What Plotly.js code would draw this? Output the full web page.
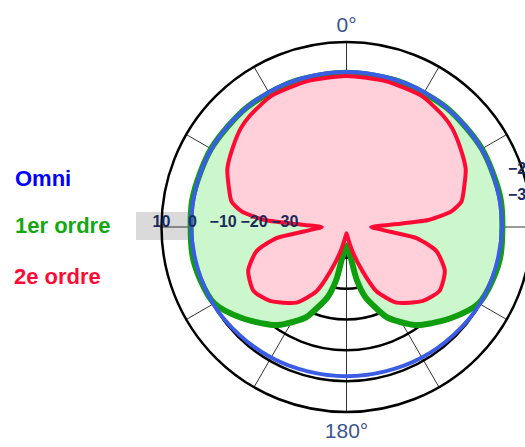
<!DOCTYPE html>
<html>
<head>
<meta charset="utf-8">
<script src="https://cdn.plot.ly/plotly-3.0.1.min.js"></script>
<style>
html,body{margin:0;padding:0;overflow:hidden;background:#fff;}
#chart{width:560px;height:447px;}
</style>
</head>
<body>
<div id="chart"></div>
<script>
// ---- data (angles in degrees, levels in dB) ----
const seriesNames = ['Omni', '1er ordre', '2e ordre'];

const omniTheta = [0,30,60,90,120,150,180,210,240,270,300,330,360];
const omniR = [0.3,0.5,0.6,0.4,-0.1,-1.1,-1.6,-1.1,-0.1,0.4,0.6,0.5,0.3];

const firstTheta = [0,20,40,60,80,100,110,120,131,142,146,152,156,160,165,169,173,180,
  187,191,195,200,204,208,214,218,229,240,250,260,280,300,320,340,360];
const firstR = [0,0.2,0.5,0.7,0.8,0.8,0.4,-0.5,-5.0,-9.8,-11.8,-15.5,-18,-22,-26.5,-32.5,-41,-44,
  -41,-32.5,-26.5,-22,-18,-15.5,-11.8,-9.8,-5.0,-0.5,0.4,0.8,0.8,0.7,0.5,0.2,0];

const secondTheta = [0,15,30,41,47,55,64,71,77.5,81.5,85,86.5,90,96,99,105,114,124.5,134,146.5,155,160,166,172,180,
  188,194,200,205,213.5,226,235.5,246,255,261,264,270,273.5,275,278.5,282.5,289,296,305,313,319,330,345,360];
const secondR = [-1,-1,-1,-2.2,-3.1,-5.0,-7.0,-9.6,-11.8,-15.6,-23,-32.5,-42,-36,-27,-19.8,-15.1,-13.4,-15.5,-20.6,-27,-34.6,-41.6,-46,-48,
  -46,-41.6,-34.6,-27,-20.6,-15.5,-13.4,-15.1,-19.8,-27,-36,-42,-32.5,-23,-15.6,-11.8,-9.6,-7.0,-5.0,-3.1,-2.2,-1,-1,-1];

const radialTicks = [-40,-30,-20,-10,0,10];
const radialTickText = ['', '\u221230', '\u221220', '\u221210', '0', '10'];
const angleTicks = [0,30,60,90,120,150,180,210,240,270,300,330];
const angleTickText = ['0°','','','','','','180°','','','','',''];
const sideLabels = ['\u22122', '\u22123'];

// ---- layout geometry ----
const W = 560, H = 447;
const cx = 346.5, cy = 227, R = 185;
const px = x => x / W, py = y => 1 - y / H;

const traces = [
  {type:'scatterpolar', name:seriesNames[1], theta:firstTheta, r:firstR, mode:'lines',
   fill:'toself', fillcolor:'#ccf6cc', line:{color:'#0e9e0e', width:6, shape:'spline', smoothing:0.8}},
  {type:'scatterpolar', name:seriesNames[2], theta:secondTheta, r:secondR, mode:'lines',
   fill:'toself', fillcolor:'#ffd0d9', line:{color:'#ff0a35', width:4, shape:'spline', smoothing:0.6}},
  {type:'scatterpolar', name:seriesNames[0], theta:omniTheta, r:omniR, mode:'lines',
   line:{color:'#3b5de6', width:4, shape:'spline'}}
];

const layout = {
  width: W, height: H,
  margin:{l:0,r:0,t:0,b:0},
  paper_bgcolor:'#ffffff',
  showlegend:false,
  polar:{
    domain:{x:[px(cx-R), px(cx+R)], y:[py(cy+R), py(cy-R)]},
    bgcolor:'rgba(0,0,0,0)',
    radialaxis:{
      range:[-50,10], tickvals:radialTicks, ticktext:radialTickText,
      angle:180, side:'clockwise', tickangle:180,
      showline:false, ticks:'', layer:'above traces',
      gridcolor:'#000000', gridwidth:2.5,
      tickfont:{family:'Liberation Sans, Arial, sans-serif', size:16, color:'#1c2b5c', weight:'bold'}
    },
    angularaxis:{
      rotation:90, direction:'clockwise',
      tickvals:angleTicks, ticktext:angleTickText, ticks:'',
      showline:true, linecolor:'#000000', linewidth:2.5,
      gridcolor:'#333333', gridwidth:1,
      tickfont:{family:'Liberation Sans, Arial, sans-serif', size:21, color:'#3a5590'}
    }
  },
  shapes:[
    {type:'rect', xref:'paper', yref:'paper', layer:'below',
     x0:px(136), x1:px(330), y0:py(240), y1:py(212),
     fillcolor:'#dadada', line:{width:0}}
  ],
  annotations:[
    {text:seriesNames[0], xref:'paper', yref:'paper', x:px(13), y:py(178.5), xanchor:'left', yanchor:'middle',
     showarrow:false, font:{family:'Liberation Sans, Arial, sans-serif', size:22, color:'#0000ff', weight:'bold'}},
    {text:seriesNames[1], xref:'paper', yref:'paper', x:px(13), y:py(225), xanchor:'left', yanchor:'middle',
     showarrow:false, font:{family:'Liberation Sans, Arial, sans-serif', size:22, color:'#12a812', weight:'bold'}},
    {text:seriesNames[2], xref:'paper', yref:'paper', x:px(12), y:py(276.5), xanchor:'left', yanchor:'middle',
     showarrow:false, font:{family:'Liberation Sans, Arial, sans-serif', size:22, color:'#ff0a35', weight:'bold'}},
    {text:sideLabels[0], xref:'paper', yref:'paper', x:px(506), y:py(169), xanchor:'left', yanchor:'middle',
     showarrow:false, font:{family:'Liberation Sans, Arial, sans-serif', size:16, color:'#1c2b5c', weight:'bold'}},
    {text:sideLabels[1], xref:'paper', yref:'paper', x:px(506), y:py(194), xanchor:'left', yanchor:'middle',
     showarrow:false, font:{family:'Liberation Sans, Arial, sans-serif', size:16, color:'#1c2b5c', weight:'bold'}}
  ]
};

Plotly.newPlot('chart', traces, layout, {staticPlot:true, displayModeBar:false});
</script>
</body>
</html>
